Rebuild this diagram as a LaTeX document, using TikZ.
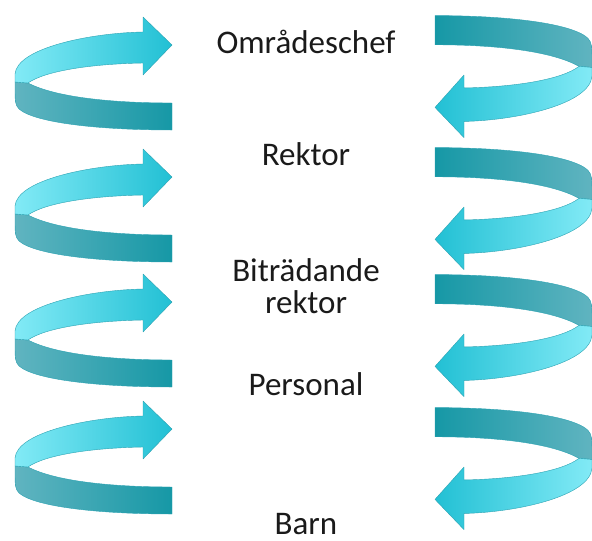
\documentclass[tikz,border=0pt]{standalone}
\usepackage{fontspec}
\setmainfont{Carlito}
\definecolor{bandline}{RGB}{44,162,178}
\definecolor{frontlight}{RGB}{130,234,246}
\definecolor{fronthead}{RGB}{34,192,212}
\definecolor{backloop}{RGB}{96,180,192}
\definecolor{backend}{RGB}{22,152,166}
\definecolor{labeltext}{RGB}{26,26,26}
\begin{document}
\begin{tikzpicture}[x=1pt,y=-1pt,
    band/.style={draw=bandline, line width=0.4pt, line join=round},
    frontL/.style={band, left color=frontlight, right color=fronthead},
    backL/.style={band, left color=backloop, right color=backend},
    frontR/.style={band, left color=fronthead, right color=frontlight},
    backR/.style={band, left color=backend, right color=backloop},
    level/.style={font=\fontsize{33}{36}\selectfont, text=labeltext, anchor=base, inner sep=0pt}]
    \useasboundingbox (0,0) rectangle (592,541);
    % Schleife: vorderes Band mit Spitze, hinteres Band mit geradem Ende
    \newcommand{\frontband}{(15,82) -- (15,74) .. controls (17,48) and (90,33) .. (143,32)
        -- (143,17) -- (172,45) -- (143,75) -- (143,63)
        .. controls (90,64) and (45,71) .. (28,83) -- cycle}
    \newcommand{\backband}{(15,82) -- (28,83) .. controls (55,97) and (110,103) .. (172,103)
        -- (172,130) .. controls (100,130) and (35,123) .. (19,109)
        .. controls (15,104) .. (15,82) -- cycle}
    %% linke Spalte: Pfeile nach rechts
    \foreach \dy in {0,132,257,384}
    {
        \begin{scope}[shift={(0,\dy)}]
            \path[backL] \backband;
            \path[frontL] \frontband;
        \end{scope}
    };
    %% rechte Spalte: dieselbe Schleife, um 180 Grad gedreht
    \foreach \dy in {0,132,259,392}
    {
        \begin{scope}[shift={(607,156+\dy)}, rotate=180, yscale=1.08]
            \path[backR] \backband;
            \path[frontR] \frontband;
        \end{scope}
    };
    \node[level] (omr) at (306,53) {Områdeschef};
    \node[level] (rek) at (306,165) {Rektor};
    \node[level] (bit) at (306,281) {Biträdande};
    \node[level] (bitr) at (306,313) {rektor};
    \node[level] (pers) at (306,395) {Personal};
    \node[level] (barn) at (306,534) {Barn};
\end{tikzpicture}
\end{document}
